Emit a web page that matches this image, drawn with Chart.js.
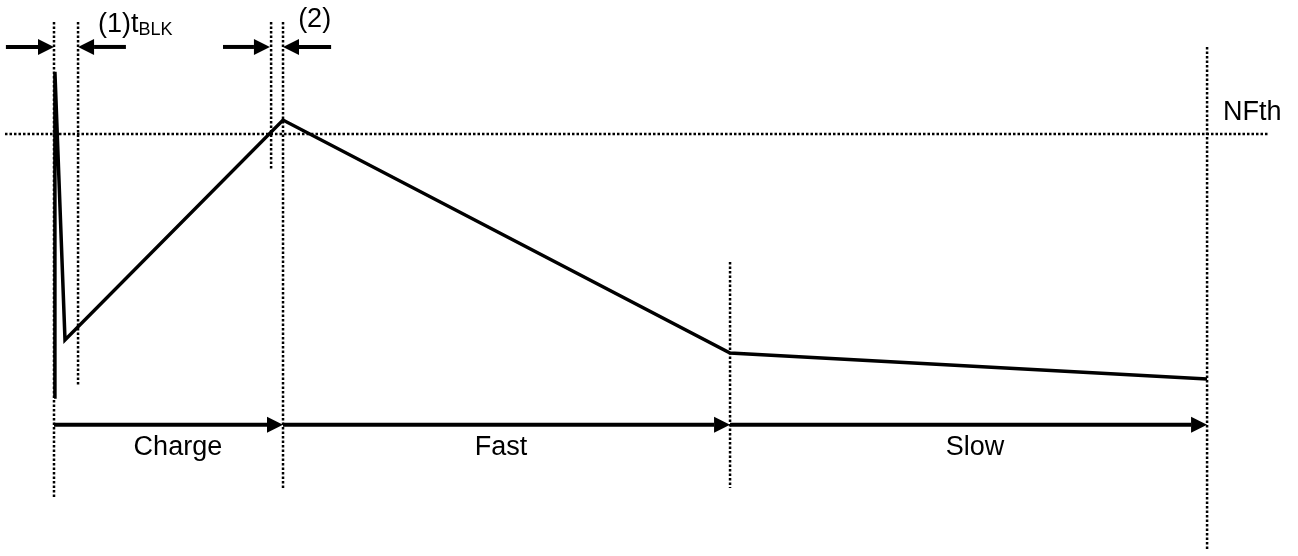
<!DOCTYPE html>
<html lang="en">
<head>
  <meta charset="UTF-8">
  <title>Charge / Fast / Slow</title>
  <script src="https://cdn.jsdelivr.net/npm/chart.js"></script>
  <style>
    html, body { margin: 0; padding: 0; background: #fff; }
    #wrap { width: 1298px; height: 556px; }
  </style>
</head>
<body>
  <div id="wrap"><canvas id="chart" width="1298" height="556"></canvas></div>
  <script>
    // time axis (arbitrary units, charge phase ends at 10) and level axis (NFth = 1)
    const waveT = [0, 0.04, 0.48, 10.0, 29.52, 50.35];
    const waveV = [0, 1.236, 0.217, 1.053, 0.167, 0.068];

    const nfth = 1.0;
    const nfthSpan = [-2.14, 53.0];

    // dotted markers: time, from level, to level
    const markT    = [0, 1.05, 9.48, 10.0, 29.52, 50.35];
    const markFrom = [1.426, 1.426, 1.426, 1.426, 0.513, 1.331];
    const markTo   = [-0.384, 0.042, 0.867, -0.354, -0.346, -0.582];

    // phase arrows along the bottom
    const phaseNames = ['Charge', 'Fast', 'Slow'];
    const phaseStart = [0, 10.0, 29.52];
    const phaseEnd   = [10.0, 29.52, 50.35];
    const phaseMid   = [5.41, 19.52, 40.22];
    const phaseLevel = -0.106;

    // interval arrows on top: from, to (tip)
    const topFrom = [-2.1, 3.14, 7.38, 12.1];
    const topTo   = [0, 1.05, 9.43, 10.0];
    const topLevel = 1.331;

    const xMin = -2.358, xMax = 54.32;
    const yMin = -0.6046, yMax = 1.5095;

    const FONT = '"Liberation Sans", Arial, sans-serif';

    function segs(ts, a, b) {
      const out = [];
      ts.forEach((t, i) => {
        out.push({x: t, y: a[i]}, {x: t, y: b[i]}, {x: t, y: null});
      });
      return out;
    }

    const arrowPlugin = {
      id: 'arrows',
      afterDatasetsDraw(chart) {
        const ctx = chart.ctx;
        const xs = chart.scales.x, ys = chart.scales.y;
        function arrow(t0, t1, v) {
          const x0 = xs.getPixelForValue(t0), x1 = xs.getPixelForValue(t1);
          const y = ys.getPixelForValue(v);
          const dir = Math.sign(x1 - x0);
          const head = 16, half = 8;
          ctx.save();
          ctx.strokeStyle = '#000';
          ctx.fillStyle = '#000';
          ctx.lineWidth = 4;
          ctx.beginPath();
          ctx.moveTo(x0, y);
          ctx.lineTo(x1 - dir * head, y);
          ctx.stroke();
          ctx.beginPath();
          ctx.moveTo(x1, y);
          ctx.lineTo(x1 - dir * head, y - half);
          ctx.lineTo(x1 - dir * head, y + half);
          ctx.closePath();
          ctx.fill();
          ctx.restore();
        }
        phaseStart.forEach((s, i) => arrow(s, phaseEnd[i], phaseLevel));
        topFrom.forEach((s, i) => arrow(s, topTo[i], topLevel));

        // labels
        ctx.save();
        ctx.fillStyle = '#000';
        ctx.textBaseline = 'alphabetic';
        ctx.font = '27px ' + FONT;
        ctx.textAlign = 'center';
        phaseNames.forEach((n, i) => {
          ctx.fillText(n, xs.getPixelForValue(phaseMid[i]), ys.getPixelForValue(-0.222));
        });
        ctx.textAlign = 'left';
        ctx.fillText('NFth', xs.getPixelForValue(51.05), ys.getPixelForValue(1.053));
        ctx.fillText('(2)', xs.getPixelForValue(10.66), ys.getPixelForValue(1.407));
        const lx = xs.getPixelForValue(1.92), ly = ys.getPixelForValue(1.388);
        const main = '(1)t';
        ctx.fillText(main, lx, ly);
        const w = ctx.measureText(main).width;
        ctx.font = '18px ' + FONT;
        ctx.fillText('BLK', lx + w, ly + 3);
        ctx.restore();
      }
    };

    new Chart(document.getElementById('chart'), {
      type: 'scatter',
      data: {
        datasets: [
          {
            data: segs(markT, markFrom, markTo),
            showLine: true, spanGaps: false,
            borderColor: '#000', borderWidth: 2.5, borderDash: [2.5, 2],
            pointRadius: 0
          },
          {
            data: [{x: nfthSpan[0], y: nfth}, {x: nfthSpan[1], y: nfth}],
            showLine: true,
            borderColor: '#000', borderWidth: 2.5, borderDash: [2.5, 2],
            pointRadius: 0
          },
          {
            data: waveT.map((t, i) => ({x: t, y: waveV[i]})),
            showLine: true,
            borderColor: '#000', borderWidth: 3.5,
            borderJoinStyle: 'miter',
            pointRadius: 0, tension: 0
          }
        ]
      },
      options: {
        responsive: false,
        animation: false,
        layout: { padding: 0 },
        plugins: { legend: { display: false }, tooltip: { enabled: false } },
        scales: {
          x: { type: 'linear', min: xMin, max: xMax, display: false },
          y: { type: 'linear', min: yMin, max: yMax, display: false }
        }
      },
      plugins: [arrowPlugin]
    });
  </script>
</body>
</html>
